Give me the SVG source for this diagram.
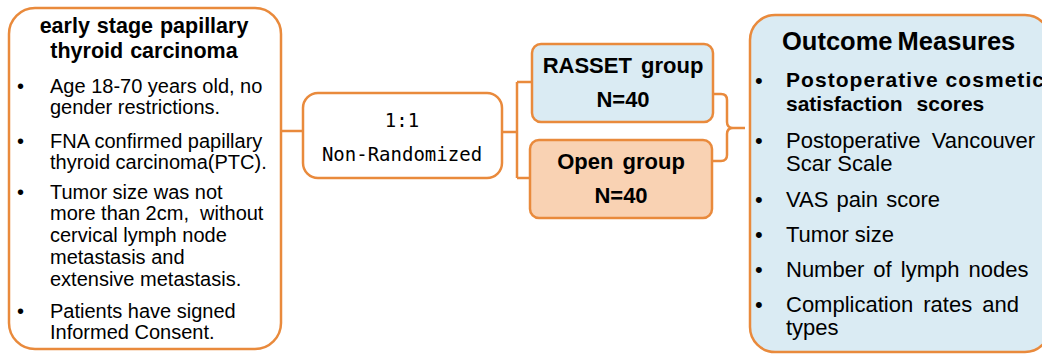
<svg xmlns="http://www.w3.org/2000/svg" width="1042" height="354" viewBox="0 0 1042 354">
<defs>
<style>
.box{stroke:#E98A3C;stroke-width:2.5;}
.conn{fill:none;stroke:#E98A3C;stroke-width:2.5;}
.t{font-family:"Liberation Sans",Arial,sans-serif;fill:#000;}
.b{font-weight:bold;}
.l{font-size:20px;}
.r{font-size:22px;}
.m{font-family:"DejaVu Sans Mono","Liberation Mono",monospace;font-size:19px;fill:#000;}
</style>
</defs>
<rect width="1042" height="354" fill="#FFFFFF"/>
<g id="connectors">
<path class="conn" d="M281,131 H303"/>
<path class="conn" d="M502,132 H517 M517,82 V178 M517,82 H532 M517,178 H530"/>
<path class="conn" d="M713,94 H721 Q727,94 727,100 V122 Q727,128 733,128 H745 M733,128 Q727,128 727,134 V155 Q727,161 721,161 H713"/>
</g>
<g id="inclusion">
<rect class="box" x="9" y="8" width="272" height="341" rx="26" fill="#FFFFFF"/>
<text class="t b" font-size="21.5" x="144" y="33" text-anchor="middle" word-spacing="1">early stage papillary</text>
<text class="t b" font-size="21.5" x="144" y="58" text-anchor="middle" word-spacing="1">thyroid carcinoma</text>
<g class="t l">
<text x="17" y="93">•</text>
<text x="50" y="93">Age 18-70 years old, no</text>
<text x="50" y="114">gender restrictions.</text>
<text x="17" y="148">•</text>
<text x="50" y="148">FNA confirmed papillary</text>
<text x="50" y="169">thyroid carcinoma(PTC).</text>
<text x="17" y="199">•</text>
<text x="50" y="199">Tumor size was not</text>
<text x="50" y="220" xml:space="preserve">more than 2cm,  without</text>
<text x="50" y="242">cervical lymph node</text>
<text x="50" y="264">metastasis and</text>
<text x="50" y="286">extensive metastasis.</text>
<text x="17" y="318">•</text>
<text x="50" y="318">Patients have signed</text>
<text x="50" y="339">Informed Consent.</text>
</g>
</g>
<g id="allocation">
<rect class="box" x="303" y="93" width="199" height="85" rx="15" fill="#FFFFFF"/>
<text class="m" x="402" y="127" text-anchor="middle">1:1</text>
<text class="m" x="402" y="161" text-anchor="middle">Non-Randomized</text>
</g>
<g id="rasset">
<rect class="box" x="532" y="44" width="181" height="78" rx="9" fill="#DAEBF3"/>
<text class="t b" font-size="22" x="623" y="73" text-anchor="middle" word-spacing="3">RASSET group</text>
<text class="t b" font-size="22" x="623" y="107" text-anchor="middle">N=40</text>
</g>
<g id="open">
<rect class="box" x="530" y="140" width="182" height="78" rx="9" fill="#F9D2B3"/>
<text class="t b" font-size="22" x="621" y="169" text-anchor="middle" word-spacing="3">Open group</text>
<text class="t b" font-size="22" x="621" y="203" text-anchor="middle">N=40</text>
</g>
<g id="outcomes">
<rect class="box" x="750" y="15" width="300" height="337" rx="25" fill="#DAEBF3"/>
<text class="t b" font-size="25.5" x="782" y="50" word-spacing="-2">Outcome Measures</text>
<g class="t r">
<text x="755" y="88">•</text>
<text class="b" font-size="21" x="786" y="87" textLength="258" lengthAdjust="spacing">Postoperative cosmetic</text>
<text class="b" font-size="21" x="786" y="111" word-spacing="8">satisfaction scores</text>
<text x="755" y="148">•</text>
<text x="786" y="148" word-spacing="5">Postoperative Vancouver</text>
<text x="786" y="171">Scar Scale</text>
<text x="755" y="207">•</text>
<text x="786" y="207" word-spacing="2">VAS pain score</text>
<text x="755" y="242">•</text>
<text x="786" y="242">Tumor size</text>
<text x="755" y="277">•</text>
<text x="786" y="277" word-spacing="3">Number of lymph nodes</text>
<text x="755" y="312">•</text>
<text x="786" y="312" word-spacing="4">Complication rates and</text>
<text x="786" y="335">types</text>
</g>
</g>
</svg>
